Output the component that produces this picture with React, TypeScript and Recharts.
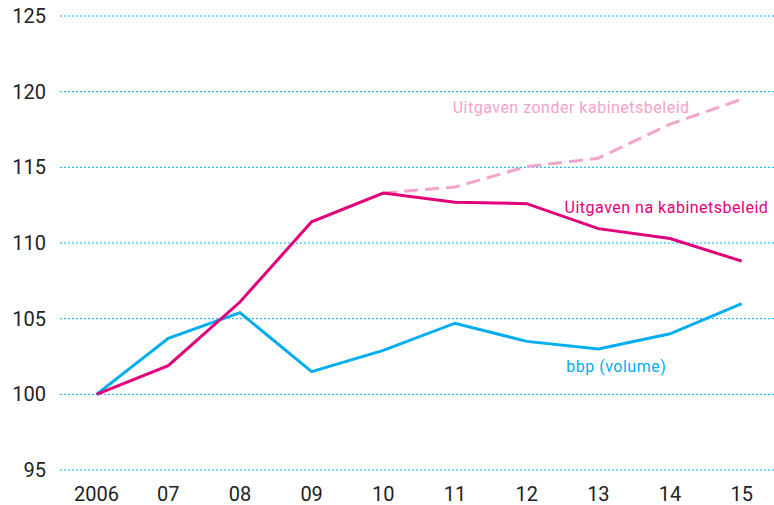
import { CartesianGrid, Line, LineChart, ReferenceDot, XAxis, YAxis } from "recharts";

const years = [2006, 2007, 2008, 2009, 2010, 2011, 2012, 2013, 2014, 2015];
const bbp = [100, 103.7, 105.4, 101.5, 102.9, 104.7, 103.5, 103.0, 104.0, 106.0];
const naBeleid = [100, 101.9, 106.1, 111.4, 113.3, 112.7, 112.6, 110.95, 110.3, 108.8];
const zonderBeleid = [null, null, null, null, 113.3, 113.7, 115.05, 115.6, 117.85, 119.5];
const yTicks = [95, 100, 105, 110, 115, 120, 125];

const CYAN = "#00aeef";
const MAGENTA = "#e2007a";
const PINK = "#f5a3c9";

const data = years.map((year, i) => ({
  year,
  bbp: bbp[i],
  na: naBeleid[i],
  zonder: zonderBeleid[i],
}));

const yearLabel = (y: number) => (y === 2006 ? "2006" : String(y).slice(2));

const tickStyle = { fill: "#222", fontSize: 20, fontFamily: "Roboto, sans-serif" };
const labelFont = { fontSize: 16, fontFamily: "Roboto, sans-serif", letterSpacing: 0.5 };

export default function App() {
  return (
    <div style={{ width: 774, height: 505 }}>
      <style>{"body{margin:0}"}</style>
      <LineChart
        width={774}
        height={505}
        data={data}
        margin={{ top: 16, right: 0, bottom: 0, left: 0 }}
      >
        <CartesianGrid vertical={false} stroke={CYAN} strokeDasharray="2 2" strokeWidth={1} />
        <XAxis
          dataKey="year"
          type="number"
          domain={[2005.49, 2015.45]}
          ticks={years}
          tickFormatter={yearLabel}
          axisLine={false}
          tickLine={false}
          tickSize={0}
          tickMargin={17}
          height={35}
          tick={tickStyle}
          interval={0}
        />
        <YAxis
          domain={[95, 125]}
          ticks={yTicks}
          axisLine={false}
          tickLine={false}
          tickSize={0}
          tickMargin={14}
          width={60}
          tick={tickStyle}
          interval={0}
        />
        <Line
          dataKey="bbp"
          stroke={CYAN}
          strokeWidth={3}
          dot={false}
          isAnimationActive={false}
        />
        <Line
          dataKey="zonder"
          stroke={PINK}
          strokeWidth={3}
          strokeDasharray="14 7"
          dot={false}
          connectNulls={false}
          isAnimationActive={false}
        />
        <Line
          dataKey="na"
          stroke={MAGENTA}
          strokeWidth={3}
          dot={false}
          isAnimationActive={false}
        />
        <ReferenceDot
          x={2012.62}
          y={118.94}
          r={0}
          stroke="none"
          label={{ value: "Uitgaven zonder kabinetsbeleid", position: "center", fill: PINK, ...labelFont }}
        />
        <ReferenceDot
          x={2013.95}
          y={112.38}
          r={0}
          stroke="none"
          label={{ value: "Uitgaven na kabinetsbeleid", position: "center", fill: MAGENTA, ...labelFont }}
        />
        <ReferenceDot
          x={2013.25}
          y={101.87}
          r={0}
          stroke="none"
          label={{ value: "bbp (volume)", position: "center", fill: CYAN, ...labelFont }}
        />
      </LineChart>
    </div>
  );
}
